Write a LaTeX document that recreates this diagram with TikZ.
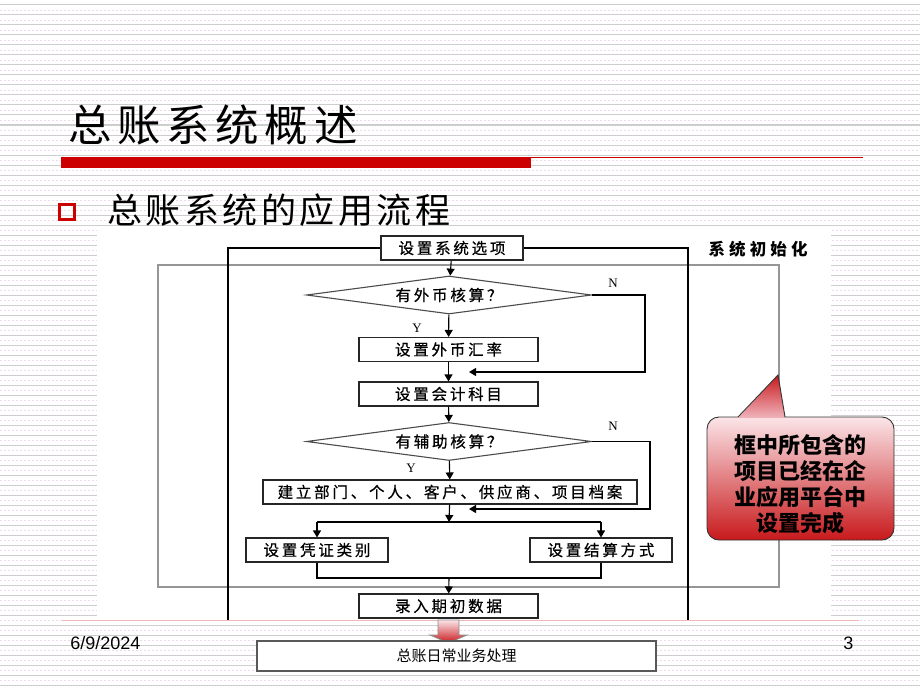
\documentclass[tikz,border=0pt]{standalone}
\usepackage{fontspec}
\usepackage{tikz}
\usetikzlibrary{arrows,arrows.meta,shapes.geometric}

\newfontfamily\cjk{Noto Sans CJK SC}
\newfontfamily\cjkwide[LetterSpace=18,FakeBold=0.5]{Noto Sans CJK SC}
\newfontfamily\cjktitle[LetterSpace=13]{Noto Sans CJK SC}
\newfontfamily\cjksub[LetterSpace=10]{Noto Sans CJK SC}
\newfontfamily\cjkhead[LetterSpace=25]{Noto Sans CJK SC}
\newfontfamily\arialfont{Liberation Sans}
\newfontfamily\timesfont{Liberation Serif}

\definecolor{slidered}{RGB}{204,0,0}
\definecolor{stripe}{RGB}{205,205,205}
\definecolor{stripepink}{RGB}{236,218,236}
\definecolor{framegray}{RGB}{150,150,150}
\definecolor{footpink}{RGB}{240,185,185}
\definecolor{calloutpink}{RGB}{251,229,232}
\definecolor{calloutmid}{RGB}{240,180,188}
\definecolor{calloutred}{RGB}{200,25,28}

\begin{document}
\begin{tikzpicture}[x=1pt,y=-1pt,>={Triangle[length=7pt,width=8pt]},semithick,
    proc/.style={draw=black!85,line width=1.1pt,fill=white,inner sep=0pt,
                 minimum height=24pt,font=\cjkwide\fontsize{15.5}{17}\selectfont},
    ask/.style={diamond,aspect=7.5,draw=black!70,line width=1.1pt,fill=white,
                inner sep=0pt,minimum width=285pt,minimum height=38pt,
                font=\cjkwide\fontsize{15.5}{17}\selectfont},
    yn/.style={font=\timesfont\fontsize{13}{15}\selectfont},
    flow/.style={line width=1.1pt,black}]
  \tikzstyle{every node}=[inner sep=0pt]

  % slide background
  \useasboundingbox (0,0) rectangle (920,690);
  \fill[white] (0,0) rectangle (920,690);
  \foreach \y in {5,15,...,685}
    \draw[stripe,line width=1pt] (0,\y) -- (920,\y);
  \foreach \y in {10,20,...,680}
    \draw[stripepink,line width=0.8pt,dash pattern=on 2pt off 2pt] (0,\y) -- (920,\y);

  % heading
  \node[anchor=west,font=\cjktitle\fontsize{43.5}{48}\selectfont] (title) at (68,125) {总账系统概述};
  \fill[slidered] (61,157) rectangle (531,168);
  \draw[slidered,line width=1pt] (531,157.5) -- (863,157.5);
  \draw[slidered,line width=2.5pt] (59.5,204.5) rectangle (74.5,219.5);
  \node[anchor=west,font=\cjksub\fontsize{35}{40}\selectfont] (sub) at (107,210) {总账系统的应用流程};

  % picture area
  \fill[white] (97,228) rectangle (831,620);

  % flow nodes
  \node[proc,minimum width=142pt] (opt)   at (452,248)   {设置系统选项};
  \node[ask]                      (fx)    at (449,295)   {有外币核算？};
  \node[proc,minimum width=179pt] (rate)  at (448.5,349.5) {设置外币汇率};
  \node[proc,minimum width=179pt] (acct)  at (448.5,394) {设置会计科目};
  \node[ask]                      (aux)   at (449,441.5) {有辅助核算？};
  \node[proc,minimum width=374pt] (arch)  at (450,492)   {建立部门、个人、客户、供应商、项目档案};
  \node[proc,minimum width=142pt] (vch)   at (317,550)   {设置凭证类别};
  \node[proc,minimum width=142pt] (stl)   at (601,550)   {设置结算方式};
  \node[proc,minimum width=179pt] (init)  at (448.5,606) {录入期初数据};

  \coordinate (m1)    at (469,372);
  \coordinate (m2)    at (469,509);
  \coordinate (split) at (449,522);
  \coordinate (join)  at (449,578);
  \coordinate (lb)    at (228,620);
  \coordinate (rb)    at (688,620);

  % frame of the preset steps
  \draw[framegray,line width=1.1pt] (158,265) rectangle (779,587);
  \node[font=\cjkhead\bfseries\fontsize{16.5}{19}\selectfont] (phase) at (758,249) {系统初始化};

  % connectors
  \path[flow,->] (opt) edge (fx)
                 (fx) edge (rate)
                 (rate) edge (acct)
                 (acct) edge (aux)
                 (aux) edge (arch)
                 (arch) edge (split)
                 (join) edge (init);
  \draw[flow,->] (fx.east) -- (645,295) -- (645,372) -- (m1);
  \draw[flow,->] (aux.east) -- (650,441.5) -- (650,509) -- (m2);
  \draw[flow] (split -| vch) -- (split -| stl);
  \draw[flow,->] (split -| vch) -- (vch);
  \draw[flow,->] (split -| stl) -- (stl);
  \draw[flow] (vch) -- (join -| vch) -- (join -| stl) -- (stl);
  \draw[black,line width=1.5pt] (opt.west) -| (lb);
  \draw[black,line width=1.5pt] (opt.east) -| (rb);

  \node[yn] (y1) at (417,328) {Y};
  \node[yn] (n1) at (613,283) {N};
  \node[yn] (y2) at (411,468) {Y};
  \node[yn] (n2) at (613,426) {N};

  % footer
  \draw[footpink,line width=1pt] (62,620) -- (859,620);
  \shade[top color=calloutpink,bottom color=calloutred,draw=black!45,line width=0.8pt]
    (438,620) -- (459,620) -- (459,635) -- (467,635) -- (448.5,643)
    -- (430,635) -- (438,635) -- cycle;
  \node[draw=black!65,line width=1.8pt,fill=white,minimum width=399pt,minimum height=30pt,
        font=\cjk\fontsize{15}{17}\selectfont] (daily) at (456.5,656) {总账日常业务处理};
  \node[anchor=west,font=\arialfont\fontsize{18}{20}\selectfont] (date) at (70,643) {6/9/2024};
  \node[anchor=west,font=\arialfont\fontsize{18}{20}\selectfont] (page) at (843,643) {3};

  % callout
  \shade[top color=calloutpink,middle color=calloutmid,bottom color=calloutred]
    (719,417) -- (882,417) arc[start angle=-90,end angle=0,radius=12]
    -- (894,528) arc[start angle=0,end angle=90,radius=12]
    -- (719,540) arc[start angle=90,end angle=180,radius=12]
    -- (707,429) arc[start angle=180,end angle=270,radius=12] -- cycle;
  \shade[top color=calloutred,bottom color=calloutmid] (738,418) -- (778,375) -- (785,418) -- cycle;
  \draw[black!80,line width=0.9pt] (738,417) -- (778,375) -- (785,417)
    -- (882,417) arc[start angle=-90,end angle=0,radius=12]
    -- (894,528) arc[start angle=0,end angle=90,radius=12]
    -- (719,540) arc[start angle=90,end angle=180,radius=12]
    -- (707,429) arc[start angle=180,end angle=270,radius=12] -- cycle;
  \node[align=center,font=\cjk\bfseries\fontsize{22}{26}\selectfont] (note) at (800,484)
    {框中所包含的\\项目已经在企\\业应用平台中\\设置完成};
\end{tikzpicture}
\end{document}
